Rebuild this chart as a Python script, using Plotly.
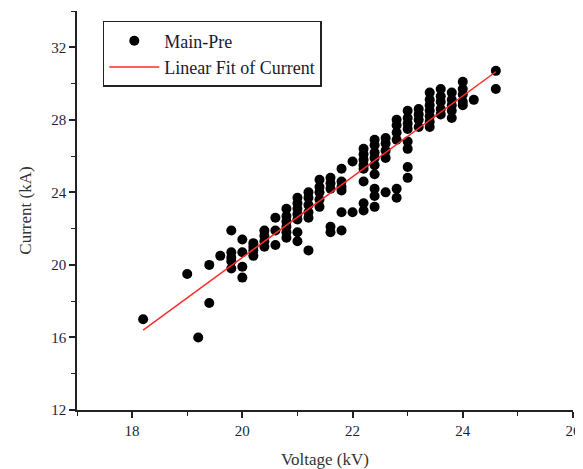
# Imports
import plotly.graph_objects as go

# Measured points, grouped by voltage column (kV -> kA)
voltage = [18.2, 19.0, 19.2, 19.4, 19.4, 19.6,
           19.8, 19.8, 19.8, 19.8, 19.8,
           20.0, 20.0, 20.0, 20.0,
           20.2, 20.2, 20.2, 20.2,
           20.4, 20.4, 20.4, 20.4,
           20.6, 20.6, 20.6,
           20.8, 20.8, 20.8, 20.8, 20.8, 20.8,
           21.0, 21.0, 21.0, 21.0, 21.0, 21.0, 21.0,
           21.2, 21.2, 21.2, 21.2, 21.2, 21.2,
           21.4, 21.4, 21.4, 21.4, 21.4,
           21.6, 21.6, 21.6, 21.6, 21.6,
           21.8, 21.8, 21.8, 21.8, 21.8, 21.8,
           22.0, 22.0,
           22.2, 22.2, 22.2, 22.2, 22.2, 22.2, 22.2, 22.2,
           22.4, 22.4, 22.4, 22.4, 22.4, 22.4, 22.4, 22.4, 22.4,
           22.6, 22.6, 22.6, 22.6, 22.6,
           22.8, 22.8, 22.8, 22.8, 22.8, 22.8,
           23.0, 23.0, 23.0, 23.0, 23.0, 23.0, 23.0, 23.0,
           23.2, 23.2, 23.2, 23.2,
           23.4, 23.4, 23.4, 23.4, 23.4, 23.4, 23.4,
           23.6, 23.6, 23.6, 23.6, 23.6,
           23.8, 23.8, 23.8, 23.8, 23.8,
           24.0, 24.0, 24.0, 24.0, 24.0,
           24.2, 24.6, 24.6]

current = [17.0, 19.5, 16.0, 20.0, 17.9, 20.5,
           21.9, 20.7, 20.4, 20.2, 19.8,
           21.4, 20.7, 19.9, 19.3,
           21.2, 21.0, 20.8, 20.5,
           21.9, 21.6, 21.3, 21.0,
           22.6, 21.9, 21.1,
           23.1, 22.7, 22.4, 22.1, 21.8, 21.5,
           23.7, 23.4, 23.1, 22.8, 22.5, 21.8, 21.3,
           24.0, 23.7, 23.3, 22.9, 22.6, 20.8,
           24.7, 24.3, 24.0, 23.6, 23.2,
           24.8, 24.5, 24.2, 22.1, 21.8,
           25.3, 24.6, 24.3, 24.1, 22.9, 21.9,
           25.7, 22.9,
           26.4, 26.1, 25.8, 25.5, 25.3, 24.6, 23.4, 23.0,
           26.9, 26.6, 26.2, 25.9, 25.5, 25.0, 24.2, 23.8, 23.2,
           27.0, 26.7, 26.3, 25.9, 24.0,
           28.0, 27.7, 27.3, 26.9, 24.2, 23.7,
           28.5, 28.1, 27.8, 27.5, 26.8, 26.4, 25.4, 24.8,
           28.6, 28.3, 28.0, 27.6,
           29.5, 29.1, 28.8, 28.5, 28.2, 27.9, 27.6,
           29.7, 29.3, 29.0, 28.6, 28.3,
           29.5, 29.1, 28.8, 28.5, 28.1,
           30.1, 29.7, 29.4, 29.0, 28.8,
           29.1, 30.7, 29.7]

# Linear fit end points
fit_voltage = [18.2, 24.6]
fit_current = [16.4, 30.65]

font_family = 'Liberation Serif, Times New Roman, serif'

fig = go.Figure()

fig.add_trace(go.Scatter(name='Main-Pre',
                         x=voltage,
                         y=current,
                         mode='markers',
                         marker=dict(color='black', size=10)))

fig.add_trace(go.Scatter(name='Linear Fit of Current',
                         x=fit_voltage,
                         y=fit_current,
                         mode='lines',
                         line=dict(color='#ff2a2a', width=1.5)))

# Axis settings: only left/bottom lines, outside ticks with minor ticks
xaxis = dict(range=[17, 26],
             tick0=18, dtick=2,
             automargin=False,
             showgrid=False, zeroline=False,
             showline=True, linewidth=1.5, linecolor='#222',
             ticks='outside', ticklen=6, tickwidth=1.5, tickcolor='#222',
             minor=dict(dtick=1, tick0=17, ticks='outside', ticklen=4,
                        tickwidth=1.2, tickcolor='#222', showgrid=False),
             tickfont=dict(size=15, color='#1f1f3a'),
             title=dict(text='Voltage (kV)', font=dict(size=17, color='#333')))

yaxis = dict(range=[12, 34],
             tick0=12, dtick=4,
             automargin=False,
             showgrid=False, zeroline=False,
             showline=True, linewidth=1.5, linecolor='#222',
             ticks='outside', ticklen=6, tickwidth=1.5, tickcolor='#222',
             minor=dict(dtick=2, tick0=12, ticks='outside', ticklen=4,
                        tickwidth=1.2, tickcolor='#222', showgrid=False),
             tickfont=dict(size=15, color='#1f1f3a'),
             title=dict(text='Current (kA)', font=dict(size=17, color='#333')))

# Page body adds an 8px margin, so the figure is sized a bit smaller
fig.update_layout(width=575, height=461,
                  margin=dict(l=69, r=10, t=3, b=59),
                  paper_bgcolor='white',
                  plot_bgcolor='white',
                  font=dict(family=font_family, color='#222'),
                  xaxis=xaxis,
                  yaxis=yaxis,
                  showlegend=True,
                  legend=dict(x=0.052, y=0.975,
                              xanchor='left', yanchor='top',
                              bgcolor='white',
                              bordercolor='#222', borderwidth=1.5,
                              font=dict(size=18, color='#1a1a2e'),
                              itemwidth=50,
                              entrywidth=180,
                              tracegroupgap=0))

fig.write_html('out.html')
